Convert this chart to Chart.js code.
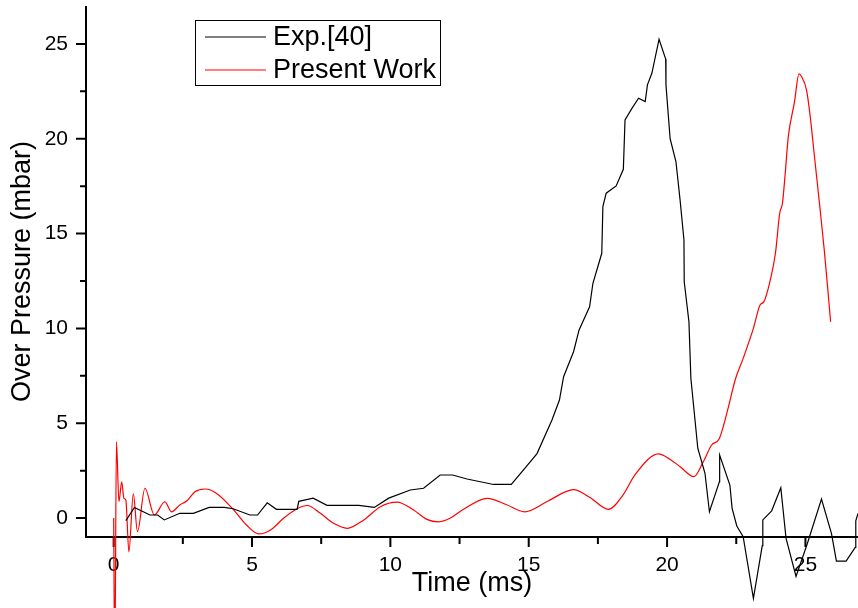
<!DOCTYPE html>
<html>
<head>
<meta charset="utf-8">
<script src="https://cdn.jsdelivr.net/npm/chart.js@4.4.1/dist/chart.umd.min.js"></script>
<style>
  html, body { margin: 0; padding: 0; background: #fff; }
</style>
</head>
<body>
<canvas id="pressureChart" width="858" height="608"></canvas>
<script>
// Exp.[40] (black)
const expTime = [0.44, 0.75, 1.31, 1.59, 1.83, 2.39, 2.88, 3.45, 4.0, 4.32, 4.92, 5.2, 5.55, 5.88, 6.63, 6.69, 7.21, 7.71, 8.86, 9.42,
  9.94, 10.72, 11.2, 11.8, 12.25, 12.77, 13.73, 14.37, 14.85, 15.3, 15.84, 16.11, 16.26, 16.62, 16.82, 17.2, 17.32, 17.64, 17.68, 17.8,
  18.16, 18.42, 18.48, 18.73, 18.97, 19.21, 19.29, 19.45, 19.71, 19.95, 19.96, 20.11, 20.32, 20.47, 20.61, 20.62, 20.79, 20.86, 21.11, 21.37,
  21.53, 21.89, 21.9, 22.27, 22.35, 22.52, 22.75, 23.12, 23.44, 23.46, 23.78, 24.11, 24.3, 24.66, 25.07, 25.58, 25.94, 26.12, 26.47, 26.8,
  26.82, 26.9];
const expPressure = [-0.14, 0.56, 0.16, 0.16, -0.1, 0.25, 0.25, 0.56, 0.56, 0.49, 0.16, 0.16, 0.8, 0.46, 0.46, 0.88, 1.05, 0.67, 0.67, 0.56,
  1.05, 1.48, 1.57, 2.27, 2.27, 2.06, 1.77, 1.77, 2.6, 3.4, 5.17, 6.22, 7.45, 8.77, 9.92, 11.14, 12.38, 13.96, 16.42, 17.13,
  17.51, 18.39, 20.99, 21.6, 22.14, 21.96, 22.84, 23.45, 25.25, 24.2, 22.84, 20.0, 18.8, 16.77, 14.66, 12.46, 10.35, 7.37, 3.68, 2.36,
  0.33, 1.91, 3.32, 1.74, 0.51, -0.42, -0.98, -4.24, -1.46, -0.1, 0.38, 1.6, -1.07, -3.08, -1.34, 1.0, -0.81, -2.27, -2.27, -1.55,
  -0.15, 0.25];

// Present Work (red)
const simTime = [0.0, 0.04, 0.1, 0.19, 0.29, 0.37, 0.44, 0.55, 0.71, 0.86, 1.13, 1.47, 1.85, 2.09, 2.39, 2.64, 2.94, 3.3, 3.72, 4.32,
  4.8, 5.25, 5.67, 6.15, 6.63, 7.0, 7.47, 7.95, 8.44, 9.04, 9.64, 10.24, 10.84, 11.32, 11.74, 12.17, 12.6, 13.5, 14.2, 14.85,
  15.7, 16.62, 17.2, 17.88, 18.4, 18.85, 19.69, 20.1, 20.47, 20.97, 21.31, 21.61, 21.89, 22.22, 22.46, 22.75, 23.12, 23.36, 23.5, 23.73,
  23.92, 24.07, 24.17, 24.27, 24.38, 24.6, 24.77, 24.86, 25.04, 25.16, 25.34, 25.52, 25.68, 25.8, 25.91];
const simPressure = [0.0, -8.0, 4.02, 0.86, 1.91, 1.04, 0.95, -1.78, 1.27, -0.72, 1.57, 0.16, 0.86, 0.33, 0.69, 0.9, 1.39, 1.53, 1.3, 0.46,
  -0.37, -0.84, -0.63, 0.0, 0.49, 0.66, 0.25, -0.28, -0.54, -0.1, 0.6, 0.84, 0.42, -0.07, -0.2, 0.0, 0.42, 1.04, 0.7, 0.33,
  0.9, 1.5, 1.1, 0.46, 1.2, 2.3, 3.38, 3.1, 2.71, 2.18, 2.97, 3.85, 4.2, 5.87, 7.28, 8.42, 10.0, 11.23, 11.41, 12.55,
  14.0, 16.07, 16.6, 18.18, 20.1, 21.9, 23.42, 23.28, 22.57, 21.34, 18.88, 16.42, 14.14, 12.2, 10.35];

const xTicks = [0, 5, 10, 15, 20, 25];
const xMinorTicks = [2.5, 7.5, 12.5, 17.5, 22.5];
const yTicks = [0, 5, 10, 15, 20, 25];
const yMinorTicks = [2.5, 7.5, 12.5, 17.5, 22.5];

const FONT = "'Liberation Sans', Arial, sans-serif";

// axis lines + major/minor ticks, drawn by hand
const axisLines = {
  id: 'axisLines',
  beforeDatasetsDraw(chart) {
    const {ctx, chartArea: a, scales: {x, y}} = chart;
    ctx.save();
    ctx.strokeStyle = '#000';
    ctx.lineWidth = 2;
    ctx.beginPath();
    ctx.moveTo(a.left, a.top);
    ctx.lineTo(a.left, a.bottom + 1);
    ctx.moveTo(a.left - 1, a.bottom);
    ctx.lineTo(a.right, a.bottom);
    xTicks.forEach(v => { const p = x.getPixelForValue(v); ctx.moveTo(p, a.bottom); ctx.lineTo(p, a.bottom + 10); });
    xMinorTicks.forEach(v => { const p = x.getPixelForValue(v); ctx.moveTo(p, a.bottom); ctx.lineTo(p, a.bottom + 7); });
    yTicks.forEach(v => { const p = y.getPixelForValue(v); ctx.moveTo(a.left, p); ctx.lineTo(a.left - 10, p); });
    yMinorTicks.forEach(v => { const p = y.getPixelForValue(v); ctx.moveTo(a.left, p); ctx.lineTo(a.left - 6, p); });
    ctx.stroke();
    ctx.restore();
  }
};

// boxed legend inside the plot
const boxLegend = {
  id: 'boxLegend',
  afterDraw(chart) {
    const ctx = chart.ctx;
    const box = {x: 195.5, y: 20.5, w: 245, h: 65};
    ctx.save();
    ctx.fillStyle = '#fff';
    ctx.fillRect(box.x, box.y, box.w, box.h);
    ctx.strokeStyle = '#000';
    ctx.lineWidth = 1;
    ctx.strokeRect(box.x, box.y, box.w, box.h);
    ctx.font = '27px ' + FONT;
    ctx.textBaseline = 'middle';
    chart.data.datasets.forEach((ds, i) => {
      const ly = 37 + i * 33;
      ctx.strokeStyle = ds.borderColor;
      ctx.lineWidth = 1.2;
      ctx.beginPath();
      ctx.moveTo(205, ly);
      ctx.lineTo(266, ly);
      ctx.stroke();
      ctx.fillStyle = '#000';
      ctx.fillText(ds.label, 273, ly + 1);
    });
    ctx.restore();
  }
};

new Chart(document.getElementById('pressureChart'), {
  type: 'line',
  data: {
    datasets: [{
      label: 'Exp.[40]',
      data: expTime.map((t, i) => ({x: t, y: expPressure[i]})),
      borderColor: '#000000',
      borderWidth: 1.2,
      pointRadius: 0,
      tension: 0,
      clip: false
    }, {
      label: 'Present Work',
      data: simTime.map((t, i) => ({x: t, y: simPressure[i]})),
      borderColor: '#ff0000',
      borderWidth: 1.2,
      pointRadius: 0,
      cubicInterpolationMode: 'monotone',
      clip: false
    }]
  },
  options: {
    responsive: false,
    animation: false,
    layout: { padding: { top: 6, right: 0, left: 0, bottom: 0 } },
    plugins: { legend: { display: false }, tooltip: { enabled: false } },
    scales: {
      x: {
        type: 'linear',
        min: -1,
        max: 26.9,
        grid: { display: false, drawTicks: false },
        border: { display: false },
        afterBuildTicks: (scale) => { scale.ticks = xTicks.map(v => ({value: v})); },
        afterFit: (scale) => { scale.height = 71; scale.paddingLeft = 0; scale.paddingRight = 0; },
        ticks: { color: '#000', padding: 16, maxRotation: 0, font: { family: FONT, size: 21 } },
        title: { display: true, text: 'Time (ms)', color: '#000', padding: { top: 0, bottom: 8 }, font: { family: FONT, size: 27, lineHeight: 1.2 } }
      },
      y: {
        min: -1,
        max: 27,
        grid: { display: false, drawTicks: false },
        border: { display: false },
        afterBuildTicks: (scale) => { scale.ticks = yTicks.map(v => ({value: v})); },
        afterFit: (scale) => { scale.width = 86; scale.paddingTop = 0; scale.paddingBottom = 0; },
        ticks: { color: '#000', padding: 18, font: { family: FONT, size: 21 } },
        title: { display: true, text: 'Over Pressure (mbar)', color: '#000', padding: { top: 6, bottom: 0 }, font: { family: FONT, size: 27, lineHeight: 1.2 } }
      }
    }
  },
  plugins: [axisLines, boxLegend]
});
</script>
</body>
</html>
